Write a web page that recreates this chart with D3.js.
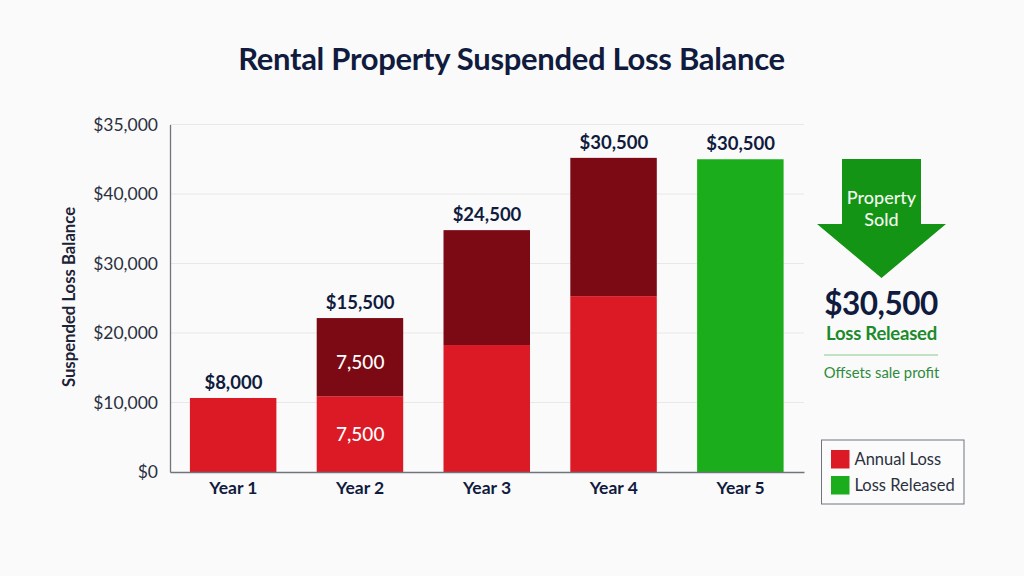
<!DOCTYPE html>
<html lang="en">
<head>
<meta charset="UTF-8">
<title>Rental Property Suspended Loss Balance</title>
<script src="https://cdn.jsdelivr.net/npm/d3@7"></script>
<style>
  html, body { margin: 0; padding: 0; background: #fafafa; }
  text { font-family: Lato, "Open Sans", sans-serif; }
</style>
</head>
<body>
<svg id="chart" width="1024" height="576"></svg>
<script>
const years = ["Year 1", "Year 2", "Year 3", "Year 4", "Year 5"];
const baseLoss = [10650, 10900, 18270, 25300, 0];
const addedLoss = [0, 11250, 16530, 19900, 0];
const released = [0, 0, 0, 0, 45000];
const barLabels = ["$8,000", "$15,500", "$24,500", "$30,500", "$30,500"];
const insideLabels = [null, "7,500", null, null, null];
const upperInsideLabels = [null, "7,500", null, null, null];
const tickValues = [0, 10000, 20000, 30000, 40000, 50000];
// the top tick really does read $35,000 in the source chart
const tickLabels = ["$0", "$10,000", "$20,000", "$30,000", "$40,000", "$35,000"];
const legendNames = ["Annual Loss", "Loss Released"];

const navy = "#101b3d";
const red = "#db1a26";
const darkRed = "#7c0a14";
const green = "#1cad1c";

const svg = d3.select("#chart");

const x = d3.scaleBand().domain(years).range([170, 804]).paddingInner(0.314).paddingOuter(0.157);
const y = d3.scaleLinear().domain([0, 50000]).range([472, 124.5]);

svg.append("text").attr("x", 511.5).attr("y", 70).attr("text-anchor", "middle")
  .attr("font-size", 31).attr("font-weight", 700).attr("letter-spacing", -0.3).attr("fill", navy)
  .text("Rental Property Suspended Loss Balance");

// gridlines
svg.append("g").selectAll("line").data(tickValues.slice(1)).join("line")
  .attr("x1", 170).attr("x2", 804)
  .attr("y1", d => y(d)).attr("y2", d => y(d))
  .attr("stroke", "#e8e8e8").attr("stroke-width", 1);

// bars
const barG = svg.append("g");
barG.selectAll(".base").data(years).join("rect")
  .attr("x", d => x(d)).attr("width", x.bandwidth() - 0.5)
  .attr("y", (d, i) => y(baseLoss[i])).attr("height", (d, i) => y(0) - y(baseLoss[i]))
  .attr("fill", red);
barG.selectAll(".added").data(years).join("rect")
  .attr("x", d => x(d)).attr("width", x.bandwidth() - 0.5)
  .attr("y", (d, i) => y(baseLoss[i] + addedLoss[i])).attr("height", (d, i) => y(0) - y(addedLoss[i]))
  .attr("fill", darkRed);
barG.selectAll(".released").data(years).join("rect")
  .attr("x", d => x(d)).attr("width", x.bandwidth() - 0.5)
  .attr("y", (d, i) => y(released[i])).attr("height", (d, i) => y(0) - y(released[i]))
  .attr("fill", green);

// axes
const yAxis = d3.axisLeft(y).tickValues(tickValues).tickSize(0).tickPadding(12)
  .tickFormat((d, i) => tickLabels[i]);
const yG = svg.append("g").attr("transform", "translate(170,0)").call(yAxis);
yG.select(".domain").attr("stroke", "#70757d").attr("stroke-width", 1.3);
yG.selectAll("text").attr("font-size", 17.5).attr("fill", "#2a3040").attr("font-family", "Lato");

const xAxis = d3.axisBottom(x).tickSize(0).tickPadding(10);
const xG = svg.append("g").attr("transform", "translate(0,472)").call(xAxis);
xG.select(".domain").attr("stroke", "#70757d").attr("stroke-width", 1.3);
xG.selectAll("text").attr("font-size", 17.5).attr("font-weight", 700).attr("fill", navy).attr("font-family", "Lato");

svg.append("text").attr("transform", "translate(75,297) rotate(-90)").attr("text-anchor", "middle")
  .attr("font-size", 16.7).attr("font-weight", 700).attr("fill", "#1c2336")
  .text("Suspended Loss Balance");

// value labels
svg.append("g").selectAll("text").data(years).join("text")
  .attr("x", d => x(d) + x.bandwidth() / 2)
  .attr("y", (d, i) => y(baseLoss[i] + addedLoss[i] + released[i]) - 9)
  .attr("text-anchor", "middle").attr("font-size", 18.5).attr("font-weight", 700).attr("fill", navy)
  .text((d, i) => barLabels[i]);

svg.append("g").selectAll("text").data(years.filter((d, i) => insideLabels[i])).join("text")
  .attr("x", d => x(d) + x.bandwidth() / 2)
  .attr("y", d => y(baseLoss[years.indexOf(d)] / 2) + 6.5)
  .attr("text-anchor", "middle").attr("font-size", 19).attr("font-weight", 500).attr("fill", "#fff")
  .text(d => insideLabels[years.indexOf(d)]);

svg.append("g").selectAll("text").data(years.filter((d, i) => upperInsideLabels[i])).join("text")
  .attr("x", d => x(d) + x.bandwidth() / 2)
  .attr("y", d => { const i = years.indexOf(d); return y(baseLoss[i] + addedLoss[i] / 2) + 11.5; })
  .attr("text-anchor", "middle").attr("font-size", 19).attr("font-weight", 500).attr("fill", "#fff")
  .text(d => upperInsideLabels[years.indexOf(d)]);

// property sold arrow
const arrow = d3.path();
arrow.moveTo(842, 159); arrow.lineTo(921, 159); arrow.lineTo(921, 224); arrow.lineTo(946, 224);
arrow.lineTo(881.5, 278); arrow.lineTo(817, 224); arrow.lineTo(842, 224); arrow.closePath();
svg.append("path").attr("d", arrow.toString()).attr("fill", "#149414");

svg.append("text").attr("x", 881.5).attr("y", 204).attr("text-anchor", "middle")
  .attr("font-size", 18).attr("font-weight", 500).attr("fill", "#f2f7f0").text("Property");
svg.append("text").attr("x", 881.5).attr("y", 226).attr("text-anchor", "middle")
  .attr("font-size", 18).attr("font-weight", 500).attr("fill", "#f2f7f0").text("Sold");

svg.append("text").attr("x", 881).attr("y", 314.5).attr("text-anchor", "middle")
  .attr("font-size", 31.5).attr("font-weight", 700).attr("letter-spacing", -0.5).attr("fill", navy).text("$30,500");
svg.append("text").attr("x", 881.5).attr("y", 339.5).attr("text-anchor", "middle")
  .attr("font-size", 18.5).attr("font-weight", 700).attr("letter-spacing", -0.25).attr("fill", "#1d8a2c").text("Loss Released");
svg.append("line").attr("x1", 824).attr("x2", 938).attr("y1", 355).attr("y2", 355)
  .attr("stroke", "#86c98c").attr("stroke-width", 1.2);
svg.append("text").attr("x", 881.5).attr("y", 378).attr("text-anchor", "middle")
  .attr("font-size", 14.8).attr("fill", "#2e8a3c").text("Offsets sale profit");

// legend
svg.append("rect").attr("x", 821.5).attr("y", 440).attr("width", 142.5).attr("height", 64)
  .attr("fill", "#fbfbfb").attr("stroke", "#6f7480").attr("stroke-width", 1);
const legend = svg.append("g").selectAll("g").data(legendNames).join("g")
  .attr("transform", (d, i) => `translate(831,${450 + i * 26})`);
legend.append("rect").attr("width", 18.5).attr("height", 18.5).attr("fill", (d, i) => [red, green][i]);
legend.append("text").attr("x", 23.5).attr("y", 15).attr("font-size", 16.5).attr("fill", "#2a3040").text(d => d);
</script>
</body>
</html>
